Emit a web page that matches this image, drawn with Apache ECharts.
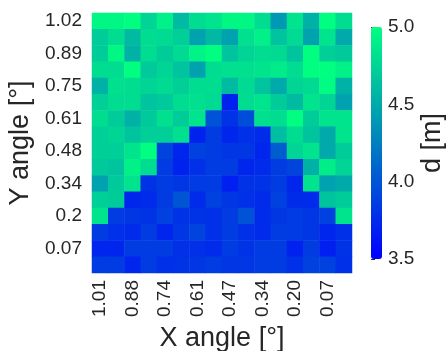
<!DOCTYPE html>
<html>
<head>
<meta charset="utf-8">
<script src="https://cdn.jsdelivr.net/npm/echarts@6/dist/echarts.min.js"></script>
<style>
  html, body { margin: 0; padding: 0; background: #fff; }
  #chart { width: 447px; height: 351px; }
</style>
</head>
<body>
<div id="chart"></div>
<script>
// x angle per column (left -> right), y angle per row (top -> bottom)
var xAngles = ['1.01', '0.94', '0.88', '0.81', '0.74', '0.67', '0.61', '0.54',
  '0.47', '0.40', '0.34', '0.27', '0.20', '0.13', '0.07', '0.00'];
var yAngles = ['1.02', '0.95', '0.89', '0.82', '0.75', '0.68', '0.61', '0.55',
  '0.48', '0.41', '0.34', '0.27', '0.2', '0.14', '0.07', '0.0'];
var colorTicks = [3.5, 4.0, 4.5, 5.0];

// distance d [m], one row per y angle
var row0 = [4.95, 4.95, 5.00, 4.75, 4.92, 4.60, 4.80, 4.85, 4.95, 4.95, 4.80, 4.40, 4.85, 4.55, 5.00, 4.80];
var row1 = [4.70, 4.80, 4.60, 4.80, 4.78, 4.72, 4.45, 4.58, 4.45, 4.82, 4.92, 4.65, 4.78, 4.45, 4.85, 4.50];
var row2 = [4.70, 4.95, 4.55, 4.80, 4.70, 4.78, 4.93, 5.00, 4.65, 4.75, 4.80, 4.78, 4.65, 5.00, 4.72, 4.68];
var row3 = [4.80, 4.80, 5.00, 4.68, 4.75, 4.65, 4.45, 4.80, 4.82, 4.82, 4.85, 4.88, 4.80, 5.00, 5.00, 4.92];
var row4 = [4.55, 4.82, 4.80, 4.75, 4.78, 4.72, 4.80, 4.80, 4.60, 4.78, 4.65, 4.50, 4.75, 4.78, 4.98, 4.55];
var row5 = [4.72, 4.80, 4.80, 4.65, 4.68, 4.80, 4.82, 4.78, 3.70, 4.80, 4.85, 4.70, 4.60, 4.85, 4.75, 4.45];
var row6 = [4.80, 4.70, 4.55, 4.68, 4.82, 4.70, 4.85, 3.98, 3.80, 3.95, 4.82, 4.80, 5.00, 4.70, 4.85, 4.85];
var row7 = [4.72, 4.75, 4.65, 4.72, 4.72, 4.82, 3.70, 3.85, 3.72, 3.78, 3.75, 4.62, 4.80, 4.65, 4.50, 4.85];
var row8 = [4.72, 4.72, 4.85, 5.00, 3.90, 3.72, 3.88, 3.85, 3.82, 3.82, 3.72, 4.05, 4.75, 4.85, 4.50, 4.70];
var row9 = [4.68, 4.65, 4.92, 4.80, 3.85, 3.70, 3.78, 3.85, 3.85, 3.72, 3.75, 3.85, 3.90, 4.55, 4.90, 4.75];
var row10 = [4.45, 4.68, 4.85, 3.80, 3.85, 3.82, 3.85, 3.85, 3.68, 3.80, 3.80, 3.85, 3.72, 4.85, 4.45, 4.50];
var row11 = [4.72, 4.70, 3.72, 3.75, 3.85, 4.00, 3.75, 3.88, 3.82, 3.78, 3.75, 3.88, 3.75, 3.75, 4.65, 4.70];
var row12 = [4.85, 3.85, 3.82, 3.80, 3.88, 3.80, 3.80, 3.78, 3.85, 3.98, 3.75, 3.82, 3.85, 3.82, 3.88, 4.85];
var row13 = [3.85, 3.78, 3.75, 3.85, 3.72, 3.82, 3.90, 3.78, 3.85, 3.78, 3.75, 3.85, 3.85, 3.82, 3.72, 3.78];
var row14 = [3.72, 3.72, 3.85, 3.85, 3.85, 3.78, 3.78, 3.75, 3.85, 3.80, 3.85, 3.85, 3.70, 3.85, 3.68, 3.80];
var row15 = [3.85, 3.85, 3.72, 3.85, 3.78, 3.80, 3.82, 3.85, 3.82, 3.82, 3.85, 3.85, 3.78, 3.88, 3.88, 3.78];
var rows = [row0, row1, row2, row3, row4, row5, row6, row7,
  row8, row9, row10, row11, row12, row13, row14, row15];

var heatData = [];
rows.forEach(function (r, yi) {
  r.forEach(function (v, xi) {
    heatData.push([xi, yi, v]);
  });
});

var font = 'Liberation Sans';
var txt = '#262626';
var chart = echarts.init(document.getElementById('chart'));

var option = {
  backgroundColor: '#ffffff',
  animation: false,
  textStyle: { fontFamily: font },
  grid: [
    { left: 92, top: 13, width: 260, height: 260, outerBoundsMode: 'none' },
    { left: 371, top: 27, width: 11, height: 232, outerBoundsMode: 'none' }   // colorbar axis
  ],
  xAxis: [
    {
      type: 'category',
      gridIndex: 0,
      data: xAngles,
      axisLine: { show: false },
      axisTick: { show: false },
      splitLine: { show: false },
      axisLabel: {
        interval: 1,
        rotate: 90,
        margin: 7,
        fontSize: 19,
        color: txt,
        fontFamily: font
      },
      name: 'X angle [°]',
      nameLocation: 'middle',
      nameGap: 51,
      nameTextStyle: { fontSize: 27, color: txt, fontFamily: font }
    },
    { type: 'value', gridIndex: 1, show: false, min: 0, max: 1 }
  ],
  yAxis: [
    {
      type: 'category',
      gridIndex: 0,
      data: yAngles,
      inverse: true,
      axisLine: { show: false },
      axisTick: { show: false },
      splitLine: { show: false },
      axisLabel: {
        interval: 1,
        margin: 10,
        fontSize: 19,
        color: txt,
        fontFamily: font
      },
      name: 'Y angle [°]',
      nameLocation: 'middle',
      nameGap: 41,
      nameRotate: 90,
      nameTextStyle: { fontSize: 27, color: txt, fontFamily: font }
    },
    {
      type: 'value',
      gridIndex: 1,
      position: 'right',
      min: colorTicks[0],
      max: colorTicks[colorTicks.length - 1],
      interval: 0.5,
      axisLine: { show: false },
      splitLine: { show: false },
      axisTick: { show: true, length: 4, lineStyle: { color: txt } },
      axisLabel: {
        margin: 6,
        fontSize: 19,
        color: txt,
        fontFamily: font,
        formatter: function (v) { return v.toFixed(1); }
      },
      name: 'd [m]',
      nameLocation: 'middle',
      nameGap: 37,
      nameRotate: 90,
      nameTextStyle: { fontSize: 27, color: txt, fontFamily: font }
    }
  ],
  visualMap: {
    type: 'continuous',
    min: 3.5,
    max: 5.0,
    seriesIndex: 0,
    orient: 'vertical',
    left: 371,
    top: 27,
    padding: 0,
    itemWidth: 11,
    itemHeight: 232,
    calculable: false,
    hoverLink: false,
    text: null,
    inRange: { color: ['#0000ff', '#00ff80'] }
  },
  series: [
    {
      type: 'heatmap',
      xAxisIndex: 0,
      yAxisIndex: 0,
      data: heatData,
      itemStyle: { borderWidth: 0 }
    }
  ]
};

chart.setOption(option);
</script>
</body>
</html>
